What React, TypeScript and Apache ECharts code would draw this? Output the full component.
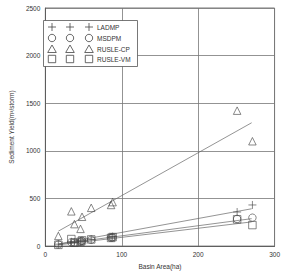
import React, { useEffect, useRef } from "react";
import * as echarts from "echarts";

const basinArea = [17, 34, 38, 46, 48, 60, 86, 88, 251, 271];
const ladmp = [20, 45, 40, 50, 55, 70, 95, 100, 358, 432];
const msdpm = [17, 40, 38, 48, 55, 67, 88, 92, 285, 298];
const rusleCp = [107, 365, 231, 181, 308, 402, 432, 462, 1422, 1101];
const rusleVm = [13, 74, 35, 45, 60, 70, 86, 95, 281, 221];

// trend line end points
const trendX = [17, 270];
const ladmpTrend = [23, 392];
const msdpmTrend = [20, 288];
const rusleCpTrend = [157, 1295];
const rusleVmTrend = [13, 254];

const xTicks = [0, 100, 200, 300];
const yTicks = [0, 500, 1000, 1500, 2000, 2500];

const seriesNames = ["LADMP", "MSDPM", "RUSLE-CP", "RUSLE-VM"];

const PLUS = "path://M5,0L5,10M0,5L10,5";
const TRI = "path://M5,0L10,9L0,9Z";
const SQ = "path://M0,0L10,0L10,10L0,10Z";

const C = "#444";

export default function App() {
  const ref = useRef<HTMLDivElement>(null);
  useEffect(() => {
    const chart = echarts.init(ref.current!, null, { renderer: "svg" });
    const pts = (ys: number[]) => basinArea.map((x, i) => [x, ys[i]]);
    const tl = (ys: number[]) => trendX.map((x, i) => [x, ys[i]]);
    const mk = (name: string, data: number[], symbol: string, size: number) => ({
      type: "scatter",
      name,
      data: pts(data),
      symbol,
      symbolSize: size,
      itemStyle: { color: "rgba(0,0,0,0)", borderColor: C, borderWidth: 0.8 },
      z: 3,
    });
    const line = (data: number[]) => ({
      type: "line",
      data: tl(data),
      symbol: "none",
      lineStyle: { color: "#666", width: 0.7 },
      z: 2,
    });
    const font = "Liberation Sans, Arial, sans-serif";
    const rowY = [27, 38, 49, 59];
    const colX = [52, 70, 89];
    const legendGraphics: any[] = [
      {
        type: "rect",
        shape: { x: 43.5, y: 20.5, width: 94, height: 46 },
        style: { fill: "#fff", stroke: "#555", lineWidth: 0.8 },
        z: 10,
      },
    ];
    rowY.forEach((y, r) => {
      colX.forEach((x) => {
        if (r === 0) {
          legendGraphics.push(
            { type: "line", shape: { x1: x - 4, y1: y, x2: x + 4, y2: y }, style: { stroke: C, lineWidth: 0.8 }, z: 11 },
            { type: "line", shape: { x1: x, y1: y - 4, x2: x, y2: y + 4 }, style: { stroke: C, lineWidth: 0.8 }, z: 11 }
          );
        } else if (r === 1) {
          legendGraphics.push({ type: "circle", shape: { cx: x, cy: y, r: 3.7 }, style: { fill: "none", stroke: C, lineWidth: 0.8 }, z: 11 });
        } else if (r === 2) {
          legendGraphics.push({
            type: "polygon",
            shape: { points: [[x, y - 4], [x + 4.3, y + 3.5], [x - 4.3, y + 3.5]] },
            style: { fill: "none", stroke: C, lineWidth: 0.8 },
            z: 11,
          });
        } else {
          legendGraphics.push({ type: "rect", shape: { x: x - 3.7, y: y - 3.7, width: 7.4, height: 7.4 }, style: { fill: "none", stroke: C, lineWidth: 0.8 }, z: 11 });
        }
      });
      legendGraphics.push({
        type: "text",
        x: 97,
        y,
        style: { text: seriesNames[r], font: `6.5px ${font}`, fill: "#333", textVerticalAlign: "middle", verticalAlign: "middle" },
        z: 11,
      });
    });

    chart.setOption({
      animation: false,
      backgroundColor: "#fff",
      textStyle: { fontFamily: font },
      grid: { left: 32, right: 3, top: 8, bottom: 18, show: true, borderColor: "#555", borderWidth: 0.8 },
      xAxis: {
        type: "value",
        min: 0,
        max: 300,
        interval: 100,
        name: "Basin Area(ha)",
        nameLocation: "middle",
        nameGap: 12,
        nameTextStyle: { fontSize: 6.5, color: "#333" },
        axisLine: { lineStyle: { color: "#555", width: 0.8 } },
        axisTick: { show: false },
        axisLabel: { fontSize: 6.5, color: "#333", margin: 5, formatter: (v: number) => (xTicks.includes(v) ? String(v) : "") },
        splitLine: { lineStyle: { color: "#777", width: 0.8 } },
      },
      yAxis: {
        type: "value",
        min: 0,
        max: 2500,
        interval: 500,
        name: "Sediment Yield(m³/storm)",
        nameLocation: "middle",
        nameGap: 24,
        nameRotate: 90,
        nameTextStyle: { fontSize: 6.5, color: "#333" },
        axisLine: { show: true, lineStyle: { color: "#555", width: 0.8 } },
        axisTick: { show: false },
        axisLabel: { fontSize: 6.5, color: "#333", margin: 5, formatter: (v: number) => (yTicks.includes(v) ? String(v) : "") },
        splitLine: { lineStyle: { color: "#777", width: 0.8 } },
      },
      graphic: legendGraphics,
      series: [
        line(ladmpTrend),
        line(msdpmTrend),
        line(rusleCpTrend),
        line(rusleVmTrend),
        mk("LADMP", ladmp, PLUS, 8),
        mk("MSDPM", msdpm, "circle", 7.5),
        mk("RUSLE-CP", rusleCp, TRI, 7.5),
        mk("RUSLE-VM", rusleVm, SQ, 7.5),
      ],
    });
    return () => chart.dispose();
  }, []);
  return <div ref={ref} style={{ width: 283, height: 275, position: "absolute", left: 0, top: 0 }} />;
}
